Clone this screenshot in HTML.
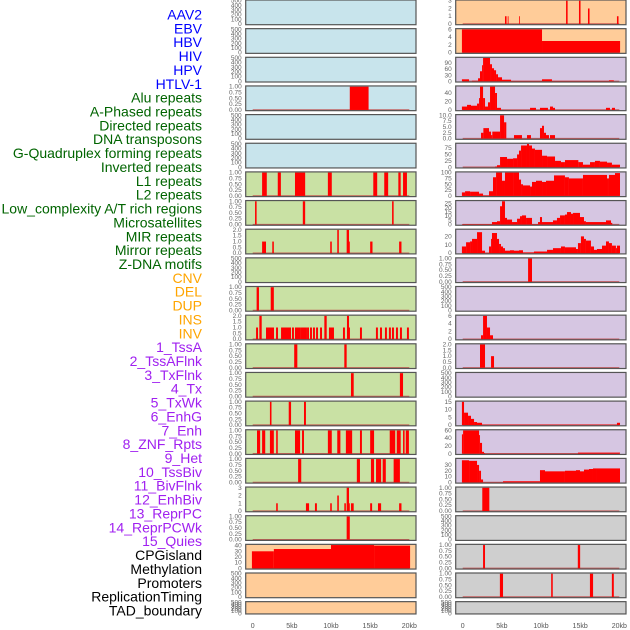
<!DOCTYPE html>
<html><head><meta charset="utf-8">
<style>
html,body{margin:0;padding:0;background:#fff;width:630px;height:630px;overflow:hidden}
svg{display:block}
text{font-family:"Liberation Sans",sans-serif}
</style></head>
<body>
<svg id="chart" width="630" height="630" viewBox="0 0 630 630" xmlns="http://www.w3.org/2000/svg">
<g id="labels"></g>
<g id="panels"></g>
<g id="xaxes"></g>
</svg>
<script>
// ---- labels ----
const trackLabels = ["AAV2","EBV","HBV","HIV","HPV","HTLV-1","Alu repeats","A-Phased repeats","Directed repeats","DNA transposons","G-Quadruplex forming repeats","Inverted repeats","L1 repeats","L2 repeats","Low_complexity A/T rich regions","Microsatellites","MIR repeats","Mirror repeats","Z-DNA motifs","CNV","DEL","DUP","INS","INV","1_TssA","2_TssAFlnk","3_TxFlnk","4_Tx","5_TxWk","6_EnhG","7_Enh","8_ZNF_Rpts","9_Het","10_TssBiv","11_BivFlnk","12_EnhBiv","13_ReprPC","14_ReprPCWk","15_Quies","CPGisland","Methylation","Promoters","ReplicationTiming","TAD_boundary"];
const labelGroups = [6,13,5,15,5];
const groupColors = ["#0000ff","#006400","#ffa500","#a020f0","#000000"];

// ---- x axis ----
const xTickVals = [0,5,10,15,20];
const xTickLabels = ["0","5kb","10kb","15kb","20kb"];

// ---- panel config ----
const leftBg = ["b","b","b","b","b","b","g","g","g","g","g","g","g","g","g","g","g","g","g","o","o","o"];
const rightBg = ["o","o","p","p","p","p","p","p","p","p","p","p","p","p","p","p","p","y","y","y","y","y"];
const T500 = ["0","100","200","300","400","500"];
const T1 = ["0.00","0.25","0.50","0.75","1.00"];
const T2 = ["0.0","0.5","1.0","1.5","2.0"];
const leftTickVals = [null,null,null,[0,.25,.5,.75,1],null,null,[0,.25,.5,.75,1],[0,.25,.5,.75,1],[0,.5,1,1.5,2],null,[0,.25,.5,.75,1],[0,.5,1,1.5,2],[0,.25,.5,.75,1],[0,.25,.5,.75,1],[0,.25,.5,.75,1],[0,.25,.5,.75,1],[0,.25,.5,.75,1],[0,1,2,3],[0,.25,.5,.75,1],[0,10,20,30,40],null,null];
const leftTickText = [T500,T500,T500,T1,T500,T500,T1,T1,T2,T500,T1,T2,T1,T1,T1,T1,T1,["0","1","2","3"],T1,["0","10","20","30","40"],T500,T500];
const leftYmax = [500,500,500,1,500,500,1,1,2,500,1,2,1,1,1,1,1,3,1,41,500,500];
const rightTickVals = [[0,1,2,3],[0,2,4,6],[0,30,60,90],[0,20,40],[0,2.5,5,7.5,10],[0,25,50,75],[0,25,50,75,100],[0,5,10,15,20,25],[0,10,20],[0,.25,.5,.75,1],null,[0,2,4,6],[0,.5,1,1.5,2],null,[0,5,10,15],[0,20,40,60],[0,10,20,30],[0,.25,.5,.75,1],null,[0,.25,.5,.75,1],[0,.25,.5,.75,1],null];
const rightTickText = [["0","1","2","3"],["0","2","4","6"],["0","30","60","90"],["0","20","40"],["0.0","2.5","5.0","7.5","10.0"],["0","25","50","75"],["0","25","50","75","100"],["0","5","10","15","20","25"],["0","10","20"],T1,T500,["0","2","4","6"],T2,T500,["0","5","10","15"],["0","20","40","60"],["0","10","20","30"],T1,T500,T1,T1,T500];
const rightYmax = [3,6,116,55,10,91,100,28,27.7,1,500,6,2,500,15,60,40,1,500,1,1,500];

// ---- series: [startKb, endKb, value] ----
const L3 = [[12.4,14.8,1]];
const L6 = [[1.2,1.8,1],[3.2,3.6,1],[5.4,6.7,1],[9.6,10.1,1],[15.4,15.9,1],[16.8,17.3,1],[18.6,18.9,1],[19.2,19.7,1]];
const L7 = [[0.3,0.5,1],[6.4,6.7,1],[17.8,18.0,1]];
const L8 = [[1.2,1.7,1],[2.5,2.7,1],[9.9,10.1,1],[10.8,11.0,2],[12.0,12.3,2],[12.2,12.4,1],[15.0,15.3,1],[18.7,19.0,1]];
const L10 = [[0.5,0.8,1],[2.3,2.7,1]];
const L11 = [[0.85,1.15,2],[9.15,9.45,2],[12.04,12.3,2],[0.43,0.68,1],[1.7,1.95,1],[1.83,2.08,1],[1.96,2.21,1],[2.21,2.46,1],[2.34,2.59,1],[2.47,2.72,1],[2.98,3.23,1],[3.62,3.87,1],[3.74,3.99,1],[3.87,4.12,1],[4.0,4.25,1],[4.13,4.38,1],[4.26,4.51,1],[4.38,4.63,1],[4.51,4.76,1],[4.64,4.89,1],[5.02,5.27,1],[5.4,5.65,1],[5.53,5.78,1],[5.66,5.91,1],[5.79,6.04,1],[5.91,6.16,1],[6.17,6.42,1],[6.3,6.55,1],[6.43,6.68,1],[6.55,6.8,1],[6.68,6.93,1],[6.94,7.19,1],[7.32,7.57,1],[7.7,7.95,1],[8.09,8.34,1],[8.6,8.85,1],[9.74,9.99,1],[9.87,10.12,1],[10.0,10.25,1],[10.13,10.38,1],[11.53,11.78,1],[12.17,12.42,1],[13.7,13.95,1],[15.74,15.99,1],[16.26,16.51,1],[16.89,17.14,1],[17.4,17.65,1],[17.79,18.04,1],[18.3,18.55,1],[18.81,19.06,1],[19.7,19.95,1]];
const L12 = [[5.3,5.7,1],[11.7,12.0,1]];
const L13 = [[12.55,12.9,1],[18.8,19.2,1]];
const L14 = [[2.2,2.4,1],[4.6,4.9,1],[6.55,6.8,1]];
const L15 = [[0.55,0.95,1],[1.2,1.6,1],[2.2,2.7,1],[3.0,3.2,1],[5.4,6.05,1],[6.3,6.55,1],[9.6,10.1,1],[10.8,11.2,1],[11.9,12.7,1],[13.7,13.95,1],[15.0,15.5,1],[17.5,18.2,1],[18.4,18.9,1],[19.2,19.4,1],[19.55,19.95,1]];
const L16 = [[5.8,6.2,1],[13.3,13.7,1],[15.1,15.5,1],[15.75,16.4,1],[16.6,17.0,1],[18.0,18.8,1]];
const L17 = [[3.0,3.2,1],[6.8,7.2,1],[7.95,8.2,1],[9.9,10.1,1],[10.8,11.0,2],[11.7,11.9,1],[12.0,12.3,3],[12.2,12.4,1],[12.55,12.9,1],[15.0,15.25,1],[16.0,16.4,1],[18.7,19.0,1]];
const L18 = [[12.0,12.4,1]];
const L19 = [[-0.1,2.7,30],[2.7,10.0,34],[10.0,15.5,41],[15.5,20.1,40]];
const leftSeries = [[],[],[],L3,[],[],L6,L7,L8,[],L10,L11,L12,L13,L14,L15,L16,L17,L18,L19,[],[]];

const R0 = [[5.4,5.6,1],[5.75,5.85,1],[7.2,7.3,1],[13.2,13.4,3],[14.85,15.05,3],[16.0,16.2,2],[19.7,19.9,1]];
const R1 = [[-0.1,10.13,6],[10.13,20.1,3]];
const R2 = [[-0.1,0.81,10],[1.19,1.96,3],[1.96,2.21,15],[2.21,2.47,50],[2.47,2.6,80],[2.6,3.49,116],[3.49,3.74,85],[3.74,4.0,65],[4.0,4.26,55],[4.26,4.51,35],[4.51,5.02,20],[5.02,6.17,8],[6.17,10.13,2],[10.13,11.4,10],[11.4,18.68,2],[18.68,19.3,5]];
const R3 = [[-0.1,0.55,8],[0.55,1.06,12],[1.06,1.83,10],[1.83,2.09,15],[2.09,2.21,28],[2.21,2.6,55],[2.6,2.85,28],[2.85,3.23,8],[3.23,3.49,18],[3.49,4.13,55],[4.13,4.38,40],[4.38,4.89,5],[8.6,9.36,5],[9.87,10.89,5],[11.15,11.53,8],[11.53,11.79,5],[18.3,18.81,5],[19.06,19.45,5]];
const R4 = [[2.34,2.64,2.5],[2.64,3.36,4.5],[3.36,3.62,3],[3.62,3.78,1.5],[3.78,4.77,3],[4.77,5.28,10],[5.28,5.57,7],[6.55,7.57,1.5],[8.21,8.72,1.5],[9.87,10.13,4.5],[10.13,10.38,5.5],[10.38,10.64,2.5],[10.64,11.02,1.5],[11.15,11.79,1.5]];
const R5 = [[4.13,4.38,3],[4.38,4.77,8],[4.77,5.66,40],[5.66,6.43,33],[6.43,6.94,35],[6.94,7.19,50],[7.19,7.45,65],[7.45,8.21,85],[8.21,8.47,91],[8.47,8.85,85],[8.85,9.23,73],[9.23,10.13,68],[10.13,10.77,45],[10.77,11.79,42],[11.79,12.55,25],[12.55,13.06,20],[13.06,14.77,28],[14.77,15.36,20],[15.36,16.26,10],[16.26,16.89,20],[16.89,17.53,25],[17.53,18.43,22],[18.43,19.06,18],[19.06,20.09,10]];
const R6 = [[-0.1,0.3,15],[0.3,0.94,20],[0.94,2.09,18],[2.09,2.6,10],[2.6,3.36,2],[3.36,3.87,20],[3.87,4.26,80],[4.26,5.02,100],[5.02,5.4,65],[5.4,6.43,100],[6.43,7.19,100],[7.19,7.45,70],[7.45,7.7,50],[7.7,8.6,45],[8.6,8.85,40],[8.85,9.36,60],[9.36,10.13,65],[10.13,10.64,60],[10.64,11.66,65],[11.66,13.06,88],[13.06,13.57,80],[13.57,15.36,75],[15.36,16.13,90],[16.13,18.43,90],[18.43,18.68,75],[18.68,19.45,90],[19.45,20.09,98]];
const R7 = [[-0.1,3.74,0.5],[3.74,4.38,3],[4.38,4.77,4],[4.77,5.02,22],[5.02,5.4,28],[5.4,5.66,8],[5.66,6.3,6],[6.3,6.94,3],[6.94,7.32,7],[7.32,7.57,10],[7.57,8.09,11],[8.09,8.85,8],[8.85,9.62,0.5],[9.62,9.87,3],[9.87,10.13,9],[10.13,11.53,3],[11.53,12.04,5],[12.04,12.43,8],[12.43,13.06,11],[13.06,13.32,12],[13.32,13.83,15],[13.83,14.09,13],[14.09,14.98,14],[14.98,15.49,9],[15.49,15.74,4],[15.74,18.3,3],[18.3,18.94,5],[18.94,19.1,2]];
const R8 = [[-0.1,0.43,8],[0.43,0.94,13],[0.94,1.19,14],[1.19,1.83,17],[1.83,2.47,25],[2.47,2.85,3],[2.85,3.36,0.5],[3.36,3.62,8],[3.62,3.74,17],[3.74,4.38,24],[4.38,4.64,17],[4.64,4.89,11],[4.89,5.15,8],[5.15,5.4,6],[5.4,6.04,3],[6.04,6.55,3.5],[6.55,7.19,3],[7.19,7.7,3.5],[7.7,9.1,1],[9.1,10.77,2],[10.77,11.53,4],[11.53,12.55,6],[12.55,13.06,8],[13.06,14.47,7],[14.47,14.72,5],[14.72,15.1,12],[15.1,15.49,20],[15.49,15.74,17],[15.74,16.38,15],[16.38,16.77,8],[16.77,17.15,4],[17.15,17.79,5],[17.79,18.3,9],[18.3,18.68,14],[18.68,19.06,12],[19.06,19.57,9],[19.57,19.7,6],[19.7,20.09,9]];
const R9 = [[8.35,8.85,1]];
const R11 = [[2.34,2.6,1],[2.6,3.1,6],[3.1,3.49,3],[3.49,3.87,1]];
const R12 = [[2.21,2.85,2],[3.62,4.0,1]];
const R14 = [[-0.1,0.17,15],[0.17,0.68,8],[0.68,1.06,6],[1.06,1.45,4],[1.45,1.83,2],[1.83,2.47,1.5],[2.47,19.7,0.3],[19.7,20.09,1.5]];
const R15 = [[-0.1,0.05,50],[0.05,2.09,60],[2.09,2.21,48],[2.21,2.47,28],[2.47,2.72,5],[2.72,2.85,2],[2.85,14.72,0.5],[14.72,20.09,3]];
const R16 = [[-0.1,0.81,38],[0.81,1.83,37],[1.83,2.09,30],[2.09,2.34,20],[2.34,2.6,5],[2.6,5.15,0.3],[5.15,9.87,2],[9.87,10.51,21],[10.51,13.06,19],[13.06,14.47,20],[14.47,14.98,21],[14.98,15.49,19],[15.49,16.13,22],[16.13,16.64,23],[16.64,17.15,24],[17.15,20.09,24]];
const R17 = [[2.5,3.4,1]];
const R19 = [[2.6,2.85,1],[14.7,15.0,1]];
const R20 = [[4.75,5.15,1],[11.3,11.5,1],[16.25,16.65,1],[19.05,19.3,1]];
const rightSeries = [R0,R1,R2,R3,R4,R5,R6,R7,R8,R9,[],R11,R12,[],R14,R15,R16,R17,[],R19,R20,[]];

// ---- layout ----
const NS = "http://www.w3.org/2000/svg";
const bgColors = {b:"#c8e4ec",g:"#c9e1a4",o:"#ffcc99",p:"#d6c6e2",y:"#cfcfcf"};
const cols = [{x0:245.7,x1:416,zero:252.7},{x0:455.7,x1:626,zero:462.7}];
const kbPx = 7.83;
function xScale(col,kb){return cols[col].zero + kb*kbPx;}
function panelTop(i){return i*28.65;}
function panelH(i){return i===21?12.3:24.7;}
function yScale(i,v,ymax){const t=panelTop(i),h=panelH(i);return t+h-0.7-(v/ymax)*(h-1.4);}
function mk(tag,attrs,parent){const e=document.createElementNS(NS,tag);for(const k in attrs)e.setAttribute(k,attrs[k]);parent.appendChild(e);return e;}

const labelsG=document.getElementById('labels');
let idx=0;
labelGroups.forEach((n,gi)=>{
  for(let k=0;k<n;k++){
    const t=mk('text',{x:202,y:19.5+idx*13.86,'text-anchor':'end','font-size':'14',fill:groupColors[gi]},labelsG);
    t.textContent=trackLabels[idx];
    
    
    idx++;
  }
});

const panelsG=document.getElementById('panels');
for(let i=0;i<22;i++){
  [0,1].forEach(col=>{
    const bg = col===0?leftBg[i]:rightBg[i];
    const ymax = col===0?leftYmax[i]:rightYmax[i];
    const tv = col===0?leftTickVals[i]:rightTickVals[i];
    const tt = col===0?leftTickText[i]:rightTickText[i];
    const series = col===0?leftSeries[i]:rightSeries[i];
    const c=cols[col], top=panelTop(i), h=panelH(i);
    const g=mk('g',{},panelsG);
    
    
    mk('rect',{x:c.x0,y:top,width:c.x1-c.x0,height:h,fill:bgColors[bg]},g);
    if(tv){
      mk('line',{x1:xScale(col,0),x2:xScale(col,20),y1:yScale(i,0,ymax),y2:yScale(i,0,ymax),stroke:'#c04040','stroke-width':1.4,'stroke-opacity':0.8},g);
    }
    series.forEach(s=>{
      const y=yScale(i,s[2],ymax), y0=yScale(i,0,ymax);
      const r=mk('rect',{x:xScale(col,s[0]),y:y,width:Math.max(0.8,xScale(col,s[1])-xScale(col,s[0])),height:Math.max(0,y0-y),fill:'#ff0000'},g);
      
      
    });
    mk('rect',{x:c.x0,y:top,width:c.x1-c.x0,height:h,fill:'none',stroke:'#555','stroke-width':1.2},g);
    const vals = tv || [0,100,200,300,400,500];
    const texts = tv ? tt : T500;
    const ym = tv ? ymax : 500;
    vals.forEach((v,k)=>{
      const t=mk('text',{x:c.x0-4,y:yScale(i,v,ym)+2,'text-anchor':'end','font-size':'6.5',fill:'#666'},g);
      t.textContent=texts[k];
      
      
    });
  });
}

const xG=document.getElementById('xaxes');
[0,1].forEach(col=>{
  xTickVals.forEach((v,k)=>{
    const t=mk('text',{x:xScale(col,v),y:628,'text-anchor':'middle','font-size':'7',fill:'#555'},xG);
    t.textContent=xTickLabels[k];
    
    
  });
});
</script>
</body></html>
